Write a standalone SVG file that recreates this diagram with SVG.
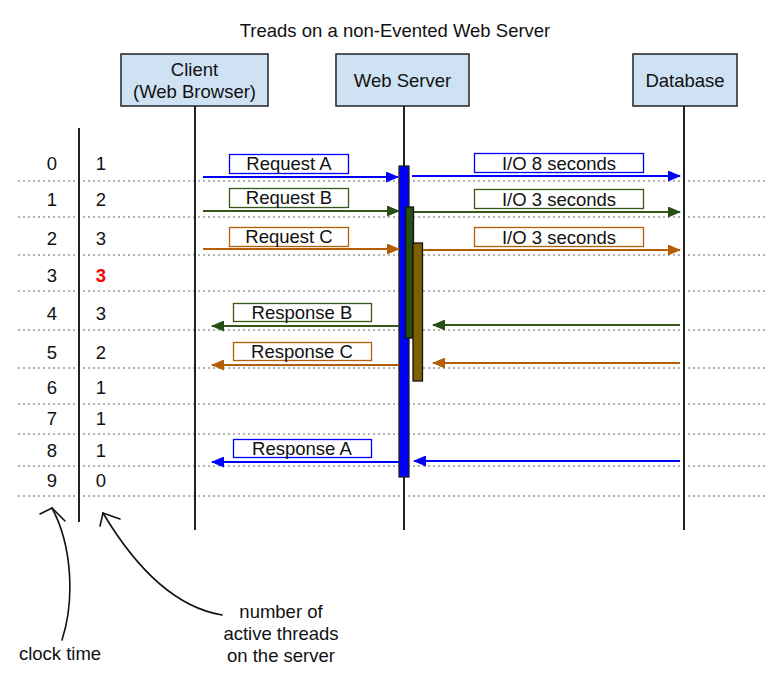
<svg xmlns="http://www.w3.org/2000/svg" width="781" height="674" viewBox="0 0 781 674">
<defs>
<style>
text{font-family:"Liberation Sans",Arial,sans-serif;font-size:18.5px;fill:#111;}
.c{text-anchor:middle;}
.hdr{fill:#cfe2f3;stroke:#222;stroke-width:1.5;}
.life{stroke:#222;stroke-width:2;fill:none;}
.dot{stroke:#666;stroke-width:1.2;stroke-dasharray:2,3;fill:none;}
.lbl{fill:#fff;stroke-width:1.3;}
.blue{stroke:#0000ff;}
.green{stroke:#38571a;}
.orange{stroke:#b45f06;}
.arr{stroke-width:2;fill:none;}
.hand{stroke:#111;stroke-width:1.6;fill:none;stroke-linecap:round;}
</style>
<marker id="mb" viewBox="0 0 13 11" refX="12" refY="5.5" markerWidth="13" markerHeight="11" markerUnits="userSpaceOnUse" orient="auto"><path d="M0,0L13,5.5L0,11z" fill="#0000ff"/></marker>
<marker id="mg" viewBox="0 0 13 11" refX="12" refY="5.5" markerWidth="13" markerHeight="11" markerUnits="userSpaceOnUse" orient="auto"><path d="M0,0L13,5.5L0,11z" fill="#274e13"/></marker>
<marker id="mo" viewBox="0 0 13 11" refX="12" refY="5.5" markerWidth="13" markerHeight="11" markerUnits="userSpaceOnUse" orient="auto"><path d="M0,0L13,5.5L0,11z" fill="#b45f06"/></marker>
</defs>
<rect width="781" height="674" fill="#fff"/>
<text class="c" x="395" y="37">Treads on a non-Evented Web Server</text>

<g id="grid">
<line class="dot" x1="18" y1="181" x2="768" y2="181"/>
<line class="dot" x1="18" y1="217" x2="768" y2="217"/>
<line class="dot" x1="18" y1="255" x2="768" y2="255"/>
<line class="dot" x1="18" y1="291" x2="768" y2="291"/>
<line class="dot" x1="18" y1="330" x2="768" y2="330"/>
<line class="dot" x1="18" y1="368" x2="768" y2="368"/>
<line class="dot" x1="18" y1="404" x2="768" y2="404"/>
<line class="dot" x1="18" y1="434" x2="768" y2="434"/>
<line class="dot" x1="18" y1="466" x2="768" y2="466"/>
<line class="dot" x1="18" y1="496" x2="768" y2="496"/>
</g>

<g id="time-axis">
<line class="life" x1="79" y1="128" x2="79" y2="522"/>
<g class="c">
<text x="52" y="170">0</text><text x="52" y="206">1</text><text x="52" y="245">2</text><text x="52" y="282">3</text><text x="52" y="320">4</text><text x="52" y="359">5</text><text x="52" y="394">6</text><text x="52" y="425">7</text><text x="52" y="457">8</text><text x="52" y="487">9</text>
<text x="101" y="170">1</text><text x="101" y="206">2</text><text x="101" y="245">3</text><text x="101" y="282" style="fill:#ff0000;font-weight:bold">3</text><text x="101" y="320">3</text><text x="101" y="359">2</text><text x="101" y="394">1</text><text x="101" y="425">1</text><text x="101" y="457">1</text><text x="101" y="487">0</text>
</g>
</g>

<g id="client">
<line class="life" x1="195" y1="106" x2="195" y2="530"/>
<rect class="hdr" x="121" y="54" width="147" height="52"/>
<text class="c" x="194.5" y="76">Client</text>
<text class="c" x="194.5" y="98">(Web Browser)</text>
</g>
<g id="webserver">
<line class="life" x1="404" y1="106" x2="404" y2="530"/>
<rect class="hdr" x="336" y="54" width="133" height="52"/>
<text class="c" x="402.5" y="87">Web Server</text>
</g>
<g id="database">
<line class="life" x1="684" y1="106" x2="684" y2="530"/>
<rect class="hdr" x="633" y="54" width="104" height="52"/>
<text class="c" x="685" y="87">Database</text>
</g>

<g id="activations">
<rect x="399" y="166" width="10" height="311" fill="#0000ff" stroke="#222" stroke-width="1.3"/>
<rect x="405.5" y="207" width="8" height="131" fill="#274e13" stroke="#111" stroke-width="1.3"/>
<rect x="413" y="243" width="9.5" height="138" fill="#7f6000" stroke="#111" stroke-width="1.3"/>
</g>

<g id="connectors">
<line class="arr blue" x1="203" y1="177" x2="398" y2="177" marker-end="url(#mb)"/>
<line class="arr green" x1="203" y1="211" x2="399" y2="211" marker-end="url(#mg)"/>
<line class="arr orange" x1="203" y1="249" x2="399" y2="249" marker-end="url(#mo)"/>
<line class="arr blue" x1="412" y1="176" x2="680" y2="176" marker-end="url(#mb)"/>
<line class="arr green" x1="414" y1="212" x2="680" y2="212" marker-end="url(#mg)"/>
<line class="arr orange" x1="423" y1="250" x2="680" y2="250" marker-end="url(#mo)"/>
<line class="arr green" x1="399" y1="326" x2="212" y2="326" marker-end="url(#mg)"/>
<line class="arr orange" x1="399" y1="365" x2="212" y2="365" marker-end="url(#mo)"/>
<line class="arr blue" x1="399" y1="462" x2="212" y2="462" marker-end="url(#mb)"/>
<line class="arr green" x1="680" y1="325" x2="433" y2="325" marker-end="url(#mg)"/>
<line class="arr orange" x1="680" y1="363" x2="433" y2="363" marker-end="url(#mo)"/>
<line class="arr blue" x1="680" y1="461" x2="414" y2="461" marker-end="url(#mb)"/>
</g>

<g id="labels">
<rect class="lbl blue" x="229.5" y="154.5" width="119" height="19"/>
<text class="c" x="289" y="170">Request A</text>
<rect class="lbl green" x="229.5" y="188.5" width="119" height="19"/>
<text class="c" x="289" y="204">Request B</text>
<rect class="lbl orange" x="229.5" y="227.5" width="119" height="19"/>
<text class="c" x="289" y="243">Request C</text>
<rect class="lbl blue" x="474.5" y="153.5" width="169" height="19"/>
<text class="c" x="559" y="169.5">I/O 8 seconds</text>
<rect class="lbl green" x="474.5" y="189.5" width="169" height="19"/>
<text class="c" x="559" y="205.5">I/O 3 seconds</text>
<rect class="lbl orange" x="474.5" y="227.5" width="169" height="19"/>
<text class="c" x="559" y="243.5">I/O 3 seconds</text>
<rect class="lbl green" x="233.5" y="303.5" width="138" height="18"/>
<text class="c" x="302" y="319">Response B</text>
<rect class="lbl orange" x="233.5" y="342.5" width="138" height="18"/>
<text class="c" x="302" y="358">Response C</text>
<rect class="lbl blue" x="233.5" y="439.5" width="138" height="18"/>
<text class="c" x="302" y="455">Response A</text>
</g>

<g id="annotations">
<path class="hand" d="M62,640 C75,600 72,545 52,508"/>
<path class="hand" d="M40,514 L52,508 L65,521"/>
<path class="hand" d="M222,615 C180,608 140,575 103,513"/>
<path class="hand" d="M120,519 L103,513 L100,526"/>
<text class="c" x="60" y="660">clock time</text>
<text class="c" x="281" y="618">number of</text>
<text class="c" x="281" y="640">active threads</text>
<text class="c" x="281" y="662">on the server</text>
</g>
</svg>
